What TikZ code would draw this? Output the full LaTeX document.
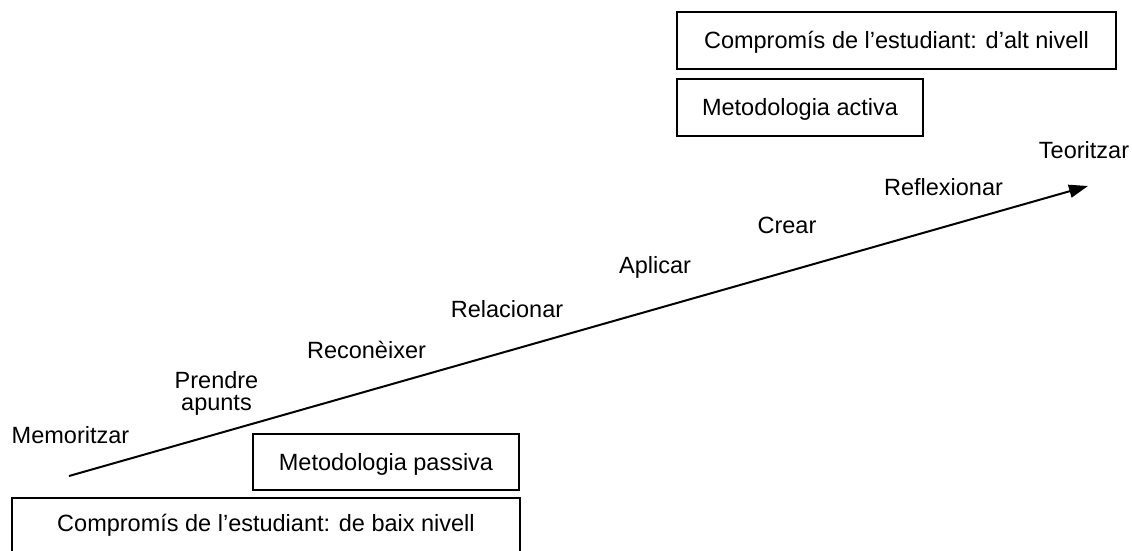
\documentclass[tikz,border=0pt]{standalone}
\usepackage{fontspec}
\setmainfont{Liberation Sans}
\usetikzlibrary{arrows.meta}
\begin{document}
\begin{tikzpicture}[x=1pt,y=-1pt,
  every node/.style={font=\fontsize{23.5}{22.5}\selectfont, inner sep=0pt},
  framebox/.style={draw, line width=1.1pt, text height=16.8pt, text depth=0pt},
  stage/.style={anchor=base},
  stagetwo/.style={anchor=north, align=center}]
\useasboundingbox (0,0) rectangle (1132,551);
\clip (0,0) rectangle (1132,551);

% boxes for the two extremes
\node[framebox, minimum width=439pt, minimum height=57pt] (highc) at (896.5,40.5)
  {Compromís de l’estudiant: d’alt nivell};
\node[framebox, minimum width=246pt, minimum height=57pt] (activa) at (800,107.5)
  {Metodologia activa};
\node[framebox, minimum width=266pt, minimum height=56pt] (passiva) at (386,462)
  {Metodologia passiva};
\node[framebox, text depth=22.8pt, minimum width=508pt, minimum height=72pt] (lowc) at (266,534)
  {Compromís de l’estudiant: de baix nivell};

% the rising axis
\coordinate (start) at (69,476);
\coordinate (tip) at (1088,186);
\draw[line width=2pt, -{Triangle[length=19pt,width=13pt]}] (start) -- (tip);

% stages along the axis
\node[stage] (m1) at (70.5,443) {Memoritzar};
\node[stagetwo] (m2) at (216.5,371) {Prendre\\apunts};
\node[stage] (m3) at (366.5,358) {Reconèixer};
\node[stage] (m4) at (507,317) {Relacionar};
\node[stage] (m5) at (655,273) {Aplicar};
\node[stage] (m6) at (787,233) {Crear};
\node[stage] (m7) at (943.5,195) {Reflexionar};
\node[stage] (m8) at (1084,158) {Teoritzar};
\end{tikzpicture}
\end{document}
